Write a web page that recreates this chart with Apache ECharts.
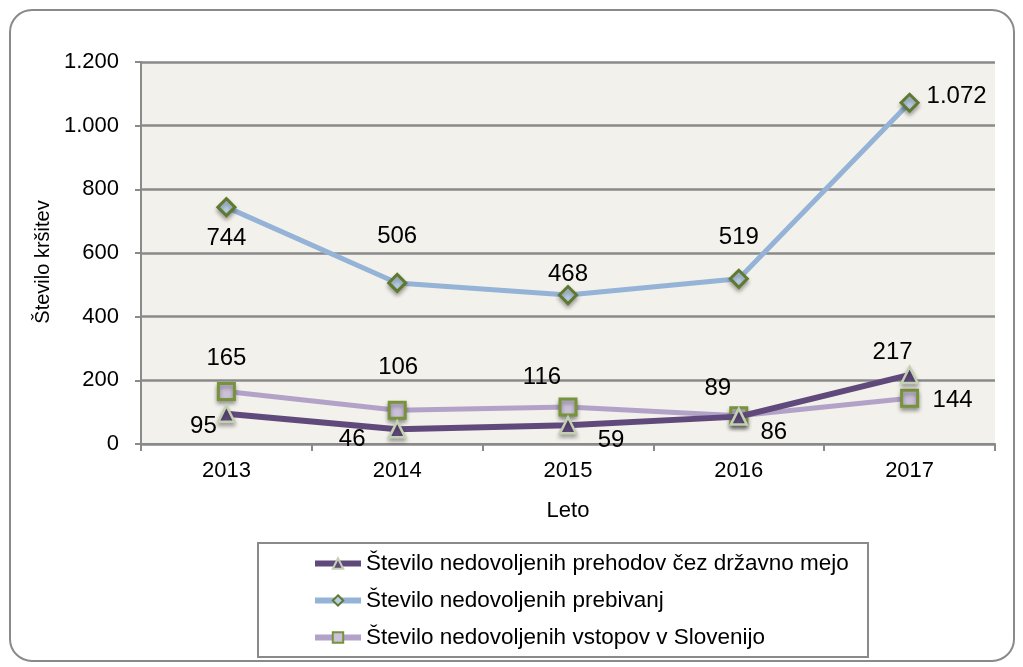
<!DOCTYPE html>
<html>
<head>
<meta charset="utf-8">
<script src="https://cdn.jsdelivr.net/npm/echarts@6/dist/echarts.min.js"></script>
<style>
  html, body { margin: 0; padding: 0; background: #fff; }
  #main { width: 1023px; height: 667px; }
</style>
</head>
<body>
<div id="main"></div>
<script>
const years = ['2013', '2014', '2015', '2016', '2017']
const prehodi = [95, 46, 59, 86, 217]
const prebivanja = [744, 506, 468, 519, 1072]
const vstopi = [165, 106, 116, 89, 144]

// label offsets from the point, [dx, dy]
const prehodiOffsets = [[-23, 13], [-45, 10], [43, 15], [35, 16], [-17, -23]]
const prebivanjaOffsets = [[0, 31], [0, -47], [0, -21], [0, -41], [47, -6]]
const vstopiOffsets = [[0, -33], [1, -43], [-26, -30], [-21, -27], [43, 2]]

const fmt = v => String(v).replace(/\B(?=(\d{3})+(?!\d))/g, '.')

function points(values, offsets) {
  return values.map((v, i) => ({
    value: v,
    label: { position: 'inside', offset: offsets[i] }
  }))
}

const labelStyle = {
  show: true,
  fontSize: 24,
  color: '#000',
  fontFamily: 'Liberation Sans, Arial, sans-serif',
  formatter: p => fmt(p.value)
}

const chart = echarts.init(document.getElementById('main'))

chart.setOption({
  animation: false,
  textStyle: { fontFamily: 'Liberation Sans, Arial, sans-serif' },
  graphic: [
    {
      type: 'rect',
      shape: { x: 10, y: 10, width: 1004, height: 651, r: 22 },
      style: { fill: 'none', stroke: '#8a8a8a', lineWidth: 2 },
      z: -1
    },
    {
      type: 'rect',
      shape: { x: 258, y: 543, width: 610, height: 114 },
      style: { fill: '#fff', stroke: '#8a8a8a', lineWidth: 2 },
      z: -1
    }
  ],
  grid: {
    left: 141,
    right: 28,
    top: 62,
    bottom: 223,
    show: true,
    backgroundColor: '#f3f1eb',
    borderWidth: 0
  },
  legend: {
    orient: 'vertical',
    left: 307,
    top: 547,
    itemWidth: 46,
    itemHeight: 13,
    itemGap: 14,
    lineStyle: { width: 6 },
    textStyle: { fontSize: 22.5, color: '#000' },
    data: [
      'Število nedovoljenih prehodov čez državno mejo',
      'Število nedovoljenih prebivanj',
      'Število nedovoljenih vstopov v Slovenijo'
    ]
  },
  xAxis: {
    type: 'category',
    data: years,
    name: 'Leto',
    nameLocation: 'middle',
    nameGap: 56,
    nameTextStyle: { fontSize: 22, color: '#000' },
    axisLine: { lineStyle: { color: '#8a8a8a', width: 2 } },
    axisTick: { show: true, length: 7, lineStyle: { color: '#8a8a8a', width: 2 } },
    axisLabel: { fontSize: 22, color: '#000', margin: 16 }
  },
  yAxis: {
    type: 'value',
    min: 0,
    max: 1200,
    interval: 200,
    name: 'Število kršitev',
    nameLocation: 'middle',
    nameGap: 86,
    nameTextStyle: { fontSize: 20, color: '#000', padding: [0, 18, 0, 0] },
    axisLine: { show: true, lineStyle: { color: '#8a8a8a', width: 2 } },
    axisTick: { show: true, length: 6, lineStyle: { color: '#8a8a8a', width: 2 } },
    axisLabel: { fontSize: 22, color: '#000', margin: 22, formatter: v => fmt(v) },
    splitLine: { lineStyle: { color: '#8a8a8a', width: 2.5 } }
  },
  series: [
    {
      name: 'Število nedovoljenih vstopov v Slovenijo',
      type: 'line',
      data: points(vstopi, vstopiOffsets),
      symbol: 'rect',
      symbolSize: 16,
      lineStyle: { color: '#b3a2c7', width: 5 },
      itemStyle: { color: '#ccc1da', borderColor: '#77933c', borderWidth: 3, shadowColor: 'rgba(0,0,0,0.35)', shadowBlur: 4, shadowOffsetY: 3 },
      label: labelStyle,
      z: 2
    },
    {
      name: 'Število nedovoljenih prehodov čez državno mejo',
      type: 'line',
      data: points(prehodi, prehodiOffsets),
      symbol: 'triangle',
      symbolSize: 16,
      lineStyle: { color: '#604a7b', width: 6 },
      itemStyle: { color: '#604a7b', borderColor: '#c4d0b4', borderWidth: 2.5, shadowColor: 'rgba(0,0,0,0.3)', shadowBlur: 4, shadowOffsetY: 3 },
      label: labelStyle,
      z: 3
    },
    {
      name: 'Število nedovoljenih prebivanj',
      type: 'line',
      data: points(prebivanja, prebivanjaOffsets),
      symbol: 'diamond',
      symbolSize: 17,
      lineStyle: { color: '#95b3d7', width: 5 },
      itemStyle: { color: '#b9cde5', borderColor: '#5f7a30', borderWidth: 3, shadowColor: 'rgba(0,0,0,0.3)', shadowBlur: 4, shadowOffsetY: 3 },
      label: labelStyle,
      z: 4
    }
  ]
})
</script>
</body>
</html>
